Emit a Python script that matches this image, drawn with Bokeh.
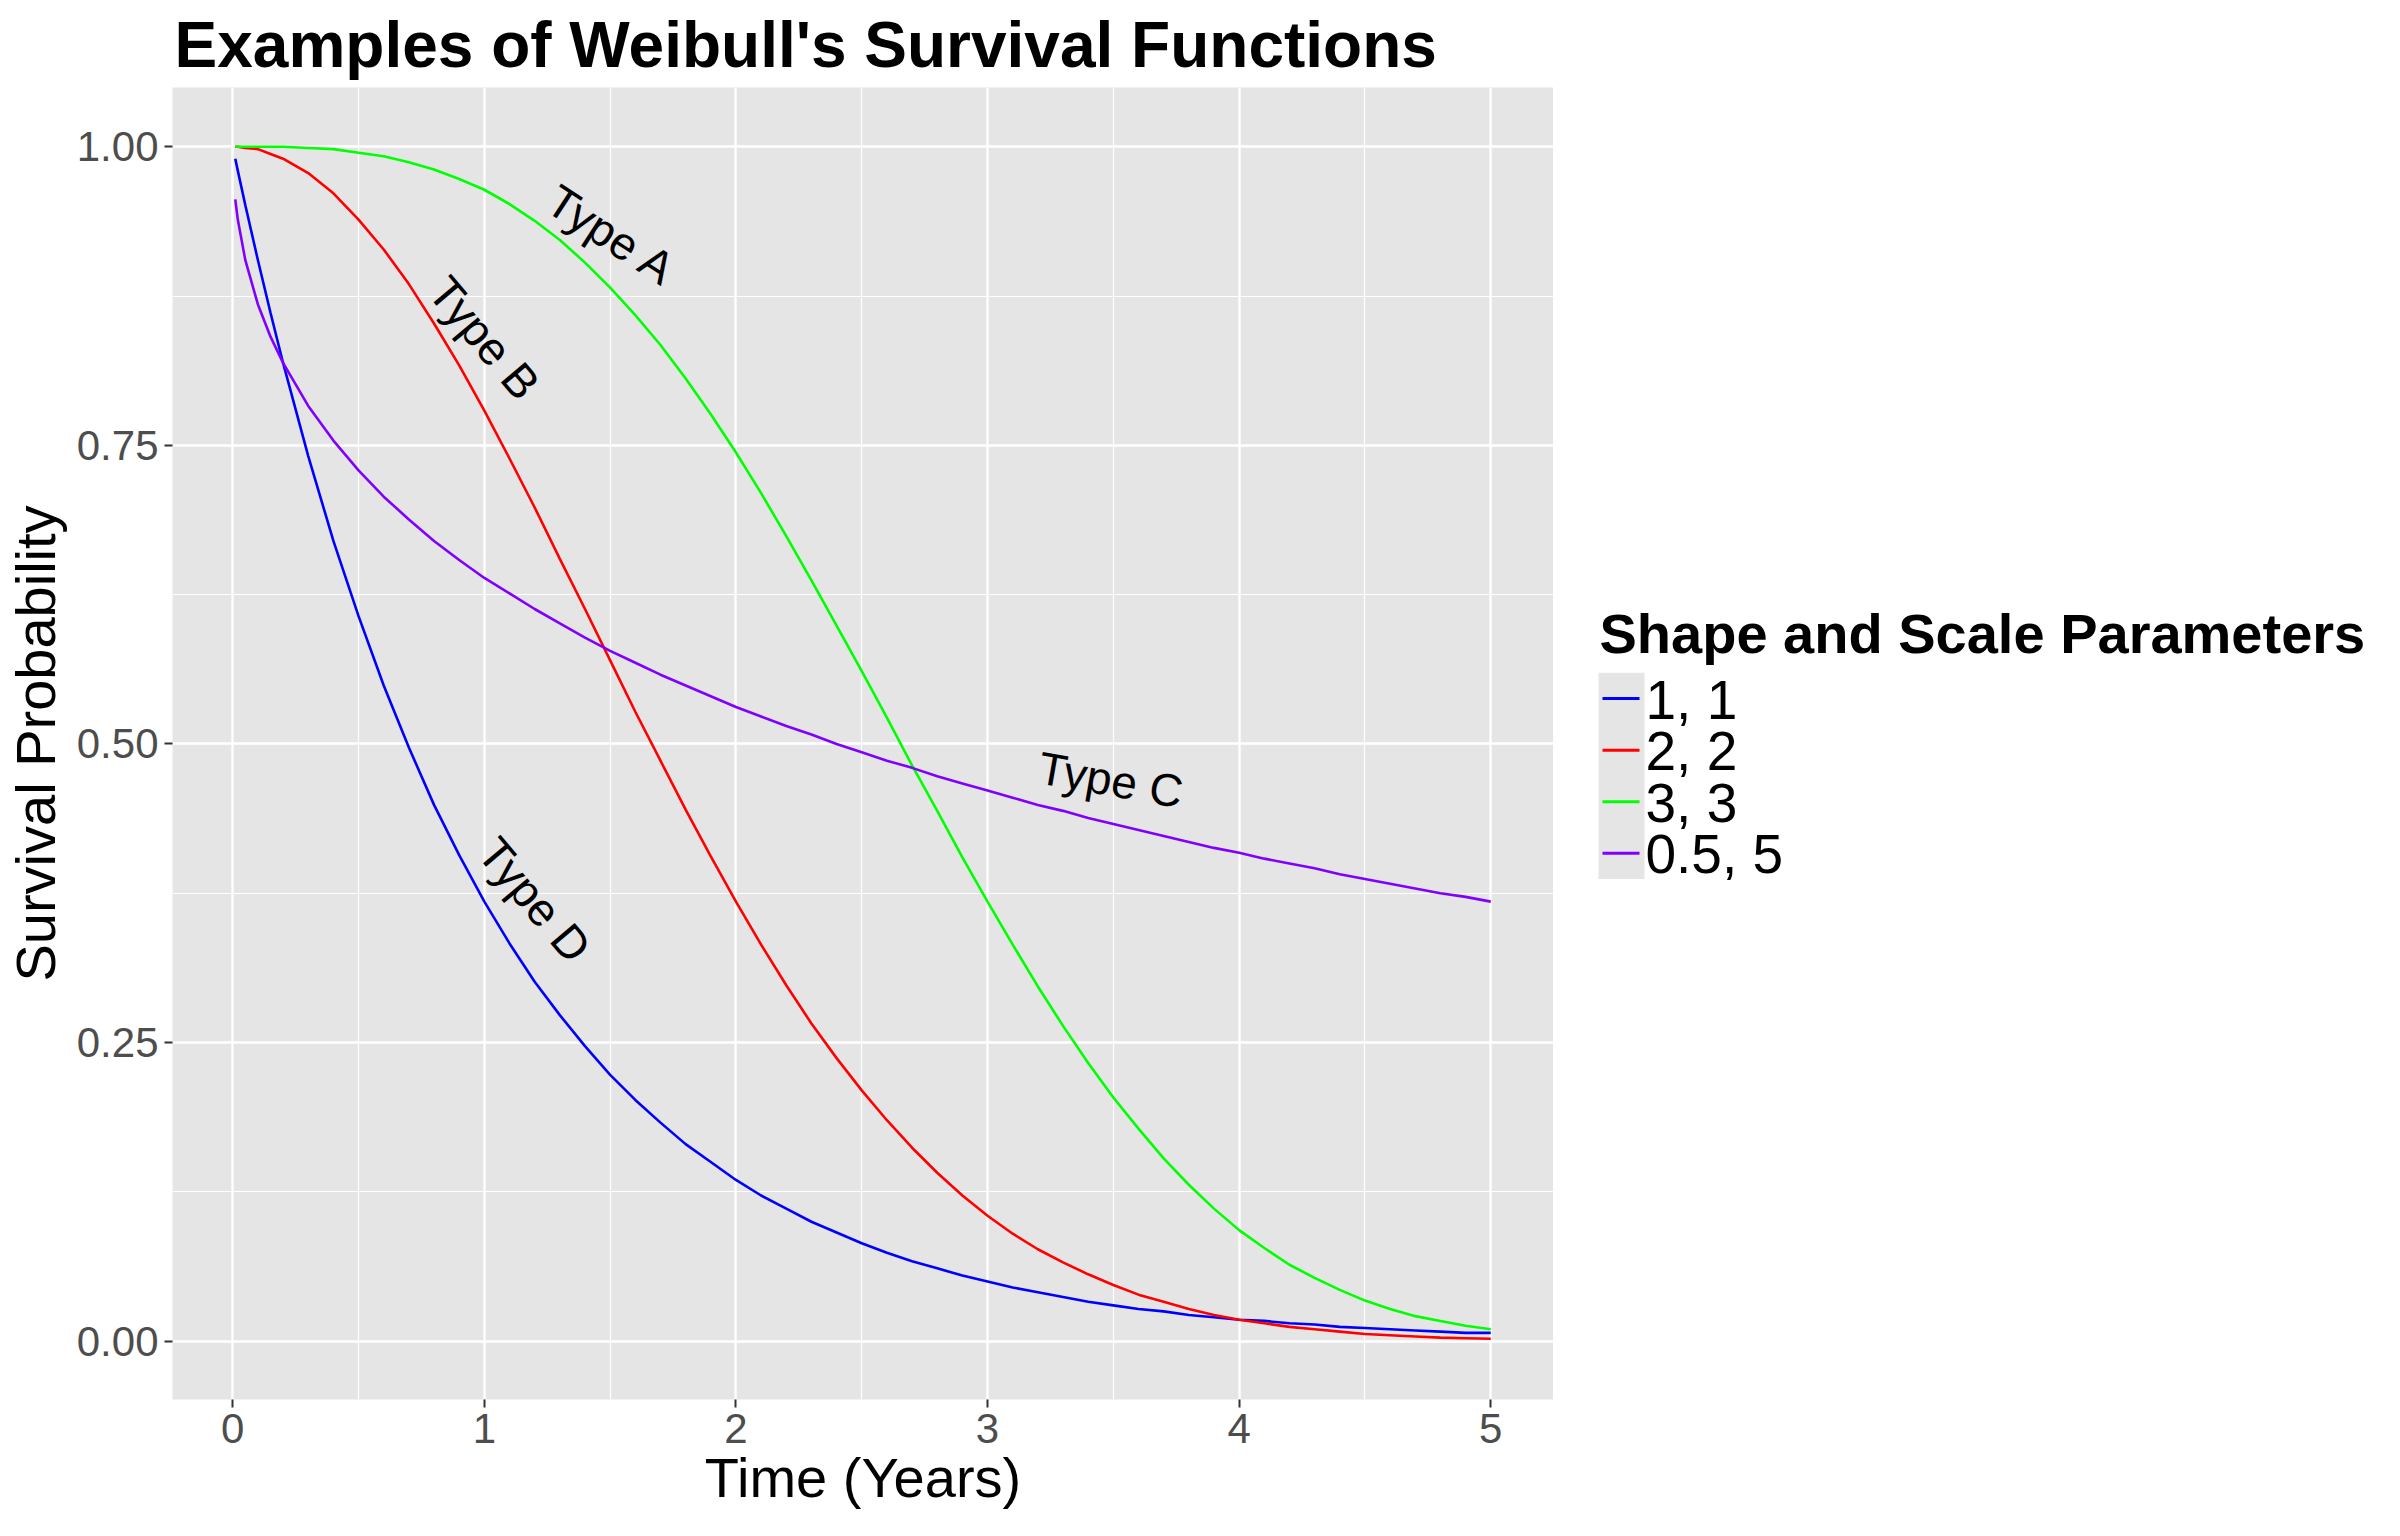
from bokeh.plotting import figure
from bokeh.layouts import row
from bokeh.models import Range1d, FixedTicker, NumeralTickFormatter
from bokeh.core.properties import value
from bokeh.embed import file_html
from bokeh.resources import INLINE

# ---------------- data ----------------
time_years = [0.01, 0.02, 0.05, 0.1, 0.15, 0.2,
              0.3, 0.4, 0.5, 0.6, 0.7, 0.8, 0.9, 1.0,
              1.1, 1.2, 1.3, 1.4, 1.5, 1.6, 1.7, 1.8, 1.9, 2.0,
              2.1, 2.2, 2.3, 2.4, 2.5, 2.6, 2.7, 2.8, 2.9, 3.0,
              3.1, 3.2, 3.3, 3.4, 3.5, 3.6, 3.7, 3.8, 3.9, 4.0,
              4.1, 4.2, 4.3, 4.4, 4.5, 4.6, 4.7, 4.8, 4.9, 5.0]

surv_1_1 = [0.990, 0.980, 0.951, 0.905, 0.861, 0.819,
            0.741, 0.670, 0.607, 0.549, 0.497, 0.449, 0.407, 0.368,
            0.333, 0.301, 0.273, 0.247, 0.223, 0.202, 0.183, 0.165, 0.150, 0.135,
            0.122, 0.111, 0.100, 0.091, 0.082, 0.074, 0.067, 0.061, 0.055, 0.050,
            0.045, 0.041, 0.037, 0.033, 0.030, 0.027, 0.025, 0.022, 0.020, 0.018,
            0.017, 0.015, 0.014, 0.012, 0.011, 0.010, 0.009, 0.008, 0.007, 0.007]

surv_2_2 = [1.000, 1.000, 0.999, 0.998, 0.994, 0.990,
            0.978, 0.961, 0.939, 0.914, 0.885, 0.852, 0.817, 0.779,
            0.739, 0.698, 0.655, 0.613, 0.570, 0.527, 0.486, 0.445, 0.406, 0.368,
            0.332, 0.298, 0.266, 0.237, 0.210, 0.185, 0.162, 0.141, 0.122, 0.105,
            0.090, 0.077, 0.066, 0.056, 0.047, 0.039, 0.033, 0.027, 0.022, 0.018,
            0.015, 0.012, 0.010, 0.008, 0.006, 0.005, 0.004, 0.003, 0.0025, 0.002]

surv_3_3 = [1.000, 1.000, 1.000, 1.000, 1.000, 1.000,
            0.999, 0.998, 0.995, 0.992, 0.987, 0.981, 0.973, 0.964,
            0.952, 0.938, 0.922, 0.903, 0.882, 0.859, 0.834, 0.806, 0.776, 0.744,
            0.710, 0.674, 0.637, 0.599, 0.561, 0.522, 0.482, 0.444, 0.405, 0.368,
            0.332, 0.297, 0.264, 0.233, 0.204, 0.178, 0.153, 0.131, 0.111, 0.093,
            0.078, 0.064, 0.053, 0.043, 0.034, 0.027, 0.021, 0.017, 0.013, 0.010]

surv_05_5 = [0.956, 0.939, 0.905, 0.868, 0.841, 0.819,
             0.783, 0.754, 0.729, 0.707, 0.688, 0.670, 0.654, 0.639,
             0.626, 0.613, 0.601, 0.589, 0.578, 0.568, 0.558, 0.549, 0.540, 0.531,
             0.523, 0.515, 0.508, 0.500, 0.493, 0.486, 0.480, 0.473, 0.467, 0.461,
             0.455, 0.449, 0.444, 0.438, 0.433, 0.428, 0.423, 0.418, 0.413, 0.409,
             0.404, 0.400, 0.396, 0.391, 0.387, 0.383, 0.379, 0.375, 0.372, 0.368]

series_labels = ["1, 1", "2, 2", "3, 3", "0.5, 5"]
series_values = [surv_1_1, surv_2_2, surv_3_3, surv_05_5]
series_colors = ["#0000FF", "#FF0000", "#00FF00", "#8000FF"]
legend_title = "Shape and Scale Parameters"

x_ticks = [0, 1, 2, 3, 4, 5]
y_ticks = [0.0, 0.25, 0.5, 0.75, 1.0]

ann_text = ["Type A", "Type B", "Type C", "Type D"]
ann_x = [1.506, 1.0, 3.49, 1.20]
ann_y = [0.926, 0.84, 0.47, 0.3695]
ann_angle = [-33, -50, -10, -50]

FONT = "Liberation Sans"
PANEL = "#E5E5E5"
H = 1520
FRAME_TOP, FRAME_BOTTOM = 81, 1399

# ---------------- main plot ----------------
p = figure(width=1553, height=H,
           x_range=Range1d(-0.2395, 5.2495), y_range=Range1d(-0.0488, 1.0496),
           output_backend="svg", toolbar_location=None,
           min_border_left=167, min_border_right=0,
           min_border_top=FRAME_TOP, min_border_bottom=H - FRAME_BOTTOM)

p.background_fill_color = PANEL
p.border_fill_color = "white"
p.outline_line_color = None

p.title.text = "Examples of Weibull's Survival Functions"
p.title.text_font = FONT
p.title.text_font_size = "64px"
p.title.text_font_style = "bold"
p.title.text_color = "black"
p.title.offset = 2
p.title.standoff = 13

x_minor = [t + 0.5 for t in x_ticks[:-1]]
y_minor = [t + 0.125 for t in y_ticks[:-1]]
p.xaxis.ticker = FixedTicker(ticks=x_ticks, minor_ticks=x_minor)
p.yaxis.ticker = FixedTicker(ticks=y_ticks, minor_ticks=y_minor)
p.yaxis.formatter = NumeralTickFormatter(format="0.00")

for ax in (p.xaxis, p.yaxis):
    ax.axis_line_color = None
    ax.major_tick_line_color = "#333333"
    ax.major_tick_line_width = 2
    ax.major_tick_out = 8
    ax.major_tick_in = 0
    ax.minor_tick_line_color = None
    ax.major_label_text_font = FONT
    ax.major_label_text_font_size = "42px"
    ax.major_label_text_color = "#4D4D4D"
    ax.axis_label_text_font = FONT
    ax.axis_label_text_font_size = "56px"
    ax.axis_label_text_font_style = "normal"
    ax.axis_label_text_color = "black"

p.xaxis.axis_label = "Time (Years)"
p.yaxis.axis_label = "Survival Probability"
p.xaxis.major_label_standoff = 6
p.yaxis.major_label_standoff = 6
p.xaxis.axis_label_standoff = 0
p.yaxis.axis_label_standoff = 7

for g in (p.xgrid, p.ygrid):
    g.grid_line_color = "white"
    g.grid_line_width = 2.4
    g.minor_grid_line_color = "white"
    g.minor_grid_line_width = 1.2

for vals, col in zip(series_values, series_colors):
    p.line(time_years, vals, line_color=col, line_width=2.6)

p.text(x=ann_x, y=ann_y, text=ann_text, angle=ann_angle, angle_units="deg",
       text_font=value(FONT), text_font_size="46px", text_color="black",
       text_align="center", text_baseline="middle")

# ---------------- legend panel (pixel coordinates, y downward from figure top) ----------------
LW = 2384 - 1553
lg = figure(width=LW, height=H, x_range=Range1d(0, LW), y_range=Range1d(FRAME_BOTTOM, FRAME_TOP),
            output_backend="svg", toolbar_location=None,
            x_axis_location=None, y_axis_location=None, min_border=0)
lg.outline_line_color = None
lg.background_fill_color = "white"
lg.border_fill_color = "white"
lg.grid.visible = False

key_left, key_w, key_top, key_pitch = 45, 46, 669, 51.8
n = len(series_labels)
row_mid = [key_top + key_pitch * (i + 0.5) for i in range(n)]
label_mid = [m + 1 for m in row_mid]

lg.quad(left=[key_left], right=[key_left + key_w], top=[key_top], bottom=[key_top + key_pitch * n],
        fill_color=PANEL, line_color=None)
lg.segment(x0=[key_left + 4] * n, x1=[key_left + key_w - 5] * n, y0=row_mid, y1=row_mid,
           line_color=series_colors, line_width=3)
lg.text(x=[key_left + key_w + 1] * n, y=label_mid, text=series_labels,
        text_font=value(FONT), text_font_size="55px", text_color="black",
        text_align="left", text_baseline="middle")
lg.text(x=[key_left + 1], y=[629], text=[legend_title],
        text_font=value(FONT), text_font_size="56px", text_font_style="bold",
        text_color="black", text_align="left", text_baseline="middle")

layout = row(p, lg)
open("out.html", "w").write(file_html(layout, INLINE))
